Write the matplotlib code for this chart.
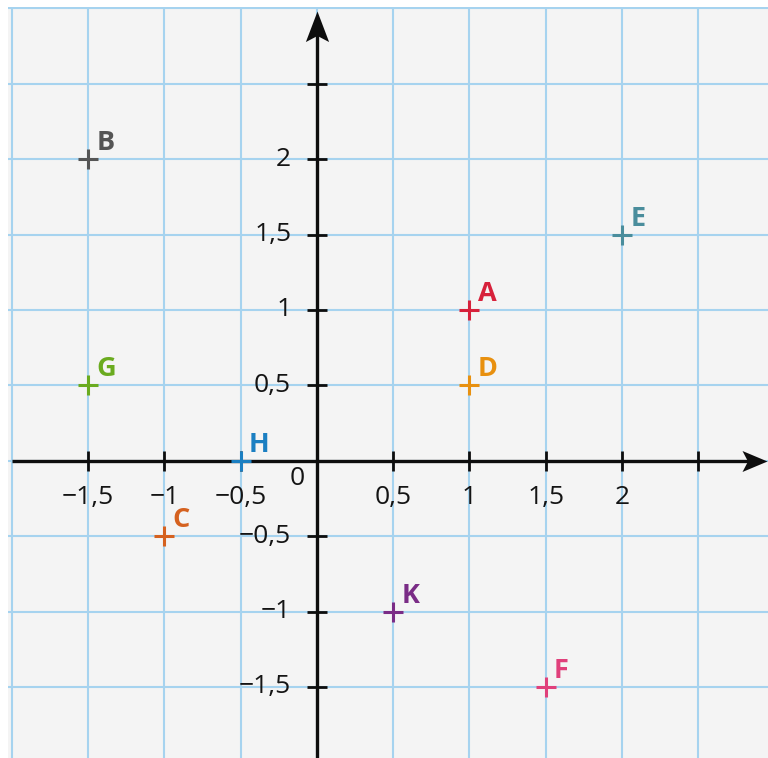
import matplotlib
matplotlib.use("Agg")
import matplotlib.pyplot as plt
from matplotlib.path import Path
from matplotlib.ticker import MultipleLocator
import numpy as np

plt.rcParams['font.family'] = ['Open Sans', 'DejaVu Sans']

# Points of the plane
point_names = ['A', 'B', 'C', 'D', 'E', 'F', 'G', 'H', 'K']
point_x = [1, -1.5, -1, 1, 2, 1.5, -1.5, -0.5, 0.5]
point_y = [1, 2, -0.5, 0.5, 1.5, -1.5, 0.5, 0, -1]
point_colors = ['#d7213b', '#555555', '#d5611f', '#e8900f', '#4a8d9c',
                '#e0407b', '#6aab1f', '#1b7fc2', '#7a2c86']

# Graduations on the axes
x_tick_values = [-1.5, -1, -0.5, 0.5, 1, 1.5, 2, 2.5]
x_tick_labels = ['\u22121,5', '\u22121', '\u22120,5', '0,5', '1', '1,5', '2', '']
y_tick_values = [-1.5, -1, -0.5, 0.5, 1, 1.5, 2, 2.5]
y_tick_labels = ['\u22121,5', '\u22121', '\u22120,5', '0,5', '1', '1,5', '2', '']
origin_label = '0'

W, H = 768, 758
fig = plt.figure(figsize=(W / 100, H / 100), dpi=100, facecolor='white')
ax = fig.add_axes([8 / W, 0, 760 / W, 751 / H])
ax.set_facecolor('#f4f4f4')
ax.set_xlim(-2.025, 2.957)
ax.set_ylim(-1.971, 3.009)
for s in ax.spines.values():
    s.set_visible(False)

# square grid every 0.5
ax.xaxis.set_major_locator(MultipleLocator(0.5))
ax.yaxis.set_major_locator(MultipleLocator(0.5))
ax.grid(True, color='#a6d3ef', linewidth=1.5, zorder=0)
ax.tick_params(length=0, labelbottom=False, labelleft=False)

axis_color = '#0d0d0d'
axis_lw = 2.4
x_tip, y_tip = 2.95, 2.982
ax.plot([-2.0, x_tip - 0.1], [0, 0], color=axis_color, lw=axis_lw,
        solid_capstyle='butt', zorder=3)
ax.plot([0, 0], [-1.971, y_tip - 0.12], color=axis_color, lw=axis_lw,
        solid_capstyle='butt', zorder=3)

# stealth-like arrow heads as custom markers (tip at the marker origin)
head_right = Path([(0, 0), (-1, 0.42), (-0.78, 0), (-1, -0.42), (0, 0)],
                  [Path.MOVETO, Path.LINETO, Path.LINETO, Path.LINETO, Path.CLOSEPOLY])
head_up = Path([(0, 0), (0.38, -1), (0, -0.8), (-0.38, -1), (0, 0)],
               [Path.MOVETO, Path.LINETO, Path.LINETO, Path.LINETO, Path.CLOSEPOLY])
ax.plot([x_tip], [0], marker=head_right, markersize=36, color=axis_color,
        markeredgewidth=0, zorder=4)
ax.plot([0], [y_tip], marker=head_up, markersize=44, color=axis_color,
        markeredgewidth=0, zorder=4)

# graduation marks
ax.plot(x_tick_values, [0] * len(x_tick_values), linestyle='none', marker='|',
        markersize=14, markeredgewidth=2.0, color=axis_color, zorder=4)
ax.plot([0] * len(y_tick_values), y_tick_values, linestyle='none', marker='_',
        markersize=14, markeredgewidth=2.0, color=axis_color, zorder=4)

tick_fs = 19
tick_color = '#141414'
for xv, lab in zip(x_tick_values, x_tick_labels):
    ax.annotate(lab, (xv, 0), xytext=(0, -26.5), textcoords='offset points',
                ha='center', va='center', fontsize=tick_fs, color=tick_color, zorder=5)
for yv, lab in zip(y_tick_values, y_tick_labels):
    ax.annotate(lab, (0, yv), xytext=(-18.5, 0), textcoords='offset points',
                ha='right', va='center', fontsize=tick_fs, color=tick_color, zorder=5)
ax.annotate(origin_label, (0, 0), xytext=(-14.4, -13), textcoords='offset points',
            ha='center', va='center', fontsize=tick_fs, color=tick_color, zorder=5)

# points and their names
for name, px, py, c in zip(point_names, point_x, point_y, point_colors):
    ax.plot([px], [py], linestyle='none', marker='+', markersize=15,
            markeredgewidth=2.2, color=c, zorder=6)
    ax.annotate(name, (px, py), xytext=(6.0, 6.5), textcoords='offset points',
                ha='left', va='baseline', fontsize=19.5, fontweight='bold',
                color=c, zorder=6)

fig.savefig('out.png', dpi=100, facecolor=fig.get_facecolor())
